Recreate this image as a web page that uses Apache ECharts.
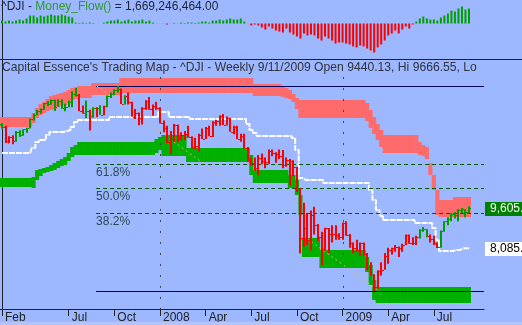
<!DOCTYPE html>
<html>
<head>
<meta charset="utf-8">
<script src="https://cdn.jsdelivr.net/npm/echarts@6.0.0/dist/echarts.min.js"></script>
<style>
html,body{margin:0;padding:0;background:#9db8ff;overflow:hidden}
#chart{width:522px;height:325px}
</style>
</head>
<body>
<div id="chart"></div>
<script>
// ---------------- DATA ----------------
// weekly bars, week ending Fri 2007-02-23 .. 2009-09-11 (134 weeks), index = week number
const weekCount = 134;
const tickIdx    = [0, 19, 32, 45, 58, 71, 84, 97, 110, 123];
const tickLabels = ['Feb','Jul','Oct','2008','Apr','Jul','Oct','2009','Apr','Jul'];
const yearIdx    = [45, 97];

const open = [12767,12647,12114,12276,12110,12481,12354,12560,12612,12961,
13120,13265,13326,13556,13507,13668,13424,13639,13360,13408,
13611,13907,13851,13265,13182,13239,13079,13379,13358,13113,
13442,13820,13896,14066,14093,13522,13807,13595,13042,13177,
12981,13372,13625,13339,13451,13366,12800,12606,12099,12207,
12743,12182,12348,12381,12266,11894,11951,12361,12216,12610,
12325,12849,12891,13058,12745,12986,12480,12638,12210,12308,
11843,11347,11288,11101,11497,11370,11327,11734,11660,11628,
11544,11220,11421,11388,11143,10325,8451,8852,8378,9325,
8943,8497,8046,8829,8635,8629,8579,8515,9034,8599,
8281,8077,8001,8280,7850,7366,7062,6627,7224,7279,
7776,8018,8083,8131,8076,8212,8575,8268,8278,8500,
8764,8799,8540,8438,8280,8147,8744,9093,9172,9370,
9321,9506,9545,9440];
const high = [12795,12700,12300,12340,12500,12530,12570,12620,12970,13150,
13290,13350,13560,13630,13690,13690,13700,13700,13530,13650,
14000,14121,13900,13460,13650,13300,13400,13400,13470,13450,
13840,13950,14080,14198,14100,13850,13950,13600,13330,13200,
13400,13660,13780,13500,13600,13400,12900,12700,12500,12770,
12750,12450,12500,12700,12300,12250,12400,12600,12650,12700,
12870,12920,13100,13140,13050,13000,12700,12700,12400,12400,
11900,11500,11500,11600,11650,11500,11800,11800,11700,11800,
11790,11500,11450,11400,11150,10350,9800,9400,9500,9650,
9000,8700,8850,8840,8950,8950,8650,9050,9100,8620,
8300,8400,8300,8300,7900,7550,7100,7250,7550,7900,
8100,8100,8200,8150,8250,8600,8600,8500,8550,8800,
8880,8800,8600,8550,8300,8750,9100,9250,9400,9450,
9550,9600,9550,9667];
const low = [12600,12050,12040,12000,12100,12280,12320,12440,12600,12900,
13100,13150,13300,13440,13490,13260,13420,13340,13250,13400,
13400,13800,13250,13150,12990,12520,13000,13030,13110,13100,
13400,13750,13850,13950,13520,13500,13500,13040,12950,12720,
12750,13300,13300,13080,13300,12780,12450,12050,11630,12100,
12080,12150,12150,12250,11850,11800,11730,12200,12200,12300,
12280,12700,12700,12730,12710,12470,12380,12200,12100,11840,
11340,11200,11000,10830,11250,11100,11250,11550,11300,11450,
11100,11150,10460,10800,10200,7880,8150,8200,8000,8600,
8350,7450,7990,7900,8300,8400,8400,8400,8550,8100,
7900,7950,7800,7800,7250,7050,6470,6550,7050,7270,
7500,7850,7950,7750,7950,8200,8250,8200,8200,8450,
8700,8500,8300,8200,8090,8100,8700,8950,9100,9200,
9100,9400,9250,9400];
const close = [12647,12114,12276,12110,12481,12354,12560,12612,12961,13120,
13265,13326,13556,13507,13668,13424,13639,13360,13408,13611,
13907,13851,13265,13182,13239,13079,13379,13358,13113,13442,
13820,13896,14066,14093,13522,13807,13595,13042,13177,12981,
13372,13625,13339,13451,13366,12800,12606,12099,12207,12743,
12182,12348,12381,12266,11894,11951,12361,12216,12610,12325,
12849,12891,13058,12745,12986,12480,12638,12210,12308,11843,
11347,11288,11101,11497,11370,11327,11734,11660,11628,11544,
11220,11421,11388,11143,10325,8451,8852,8378,9325,8943,
8497,8046,8829,8635,8629,8579,8515,9034,8599,8281,
8077,8001,8280,7850,7366,7062,6627,7224,7279,7776,
8018,8083,8131,8076,8212,8575,8268,8278,8500,8764,
8799,8540,8438,8280,8147,8744,9093,9172,9370,9321,
9506,9545,9441,9605];
// trading-map signal: 1 = green bar, 0 = red bar
const signal = [1,0,0,0,1,1,1,1,1,1,
1,1,1,1,1,1,1,1,1,1,
1,1,0,0,1,0,1,0,1,0,
1,1,1,1,0,1,0,0,0,0,
0,0,0,0,0,0,0,0,0,0,
0,0,0,0,0,0,0,0,0,0,
0,0,0,0,0,0,0,0,0,0,
0,0,0,0,0,0,0,0,0,0,
0,0,0,0,0,0,0,0,0,0,
0,0,0,0,0,0,0,0,0,0,
0,0,0,0,0,0,0,0,0,0,
0,0,0,0,0,0,0,0,0,1,
1,1,0,0,0,1,1,1,1,1,
1,1,1,1];
// resistance (red) cloud
const redTop = [13030,13030,13030,13030,13030,13030,13030,13030,13030,13181,
13369,13520,13595,13708,13822,13859,13897,13935,13972,14048,
14123,14161,14199,14199,14199,14199,14312,14312,14312,14312,
14312,14312,14312,14312,14500,14500,14500,14500,14500,14500,
14500,14500,14500,14500,14500,14500,14500,14500,14500,14500,
14500,14500,14500,14500,14500,14500,14500,14500,14500,14500,
14500,14500,14500,14500,14500,14500,14500,14500,14500,14500,
14500,14500,14274,14274,14274,14274,14274,14274,14274,14274,
14199,14123,14048,13897,13746,13671,13671,13671,13671,13671,
13671,13671,13671,13671,13671,13671,13671,13671,13671,13671,
13671,13671,13671,13671,13558,13294,13030,12766,12540,12351,
12351,12351,12351,12351,12351,12351,12351,12351,12351,12087,
11974,11899,11296,10843,10278,9901,9901,9901,9901,10014,
10014,10014,10014,10014];
const redBot = [12653,12653,12653,12653,12653,12653,12653,12653,12653,12804,
12992,13105,13181,13256,13294,13331,13407,13445,13482,13558,
13671,13708,13746,13746,13746,13746,13859,13859,13859,13859,
13859,13859,13859,13859,13935,13935,13935,13935,13935,13935,
13935,13935,13935,13935,13935,13935,13935,13935,13935,13935,
13935,13935,13935,13935,13935,13935,13935,13935,13935,13935,
13935,13935,13935,13935,13935,13935,13935,13935,13935,13935,
13935,13935,13822,13822,13822,13822,13822,13822,13822,13822,
13784,13746,13708,13595,13331,12992,12992,12992,12992,12992,
12992,12992,12992,12992,12992,12992,12992,12992,12992,12992,
12992,12992,12992,12992,12879,12615,12389,12163,11899,11673,
11673,11673,11673,11673,11673,11673,11673,11673,11673,11597,
11560,11446,10843,10278,9335,9260,9260,9260,9260,9260,
9260,9260,9260,9260];
// support (green) cloud
const greenTop = [10730,10730,10730,10730,10730,10730,10730,10730,10730,10768,
11032,11069,11107,11145,11220,11296,11371,11446,11522,11673,
11899,11974,12087,12087,12087,12087,12087,12087,12087,12087,
12087,12087,12087,12087,12087,12087,12087,12087,12087,12087,
12087,12087,12087,12087,12200,12276,12351,12351,12351,12351,
12351,12351,12351,11861,11861,11861,11861,11861,11861,11861,
11861,11861,11861,11861,11861,11861,11861,11861,11861,11861,
11861,11597,11032,11032,11032,11032,11032,11032,11032,11032,
11032,11032,10843,10843,10655,10089,8468,8468,8468,8468,
8468,8016,8016,8016,8016,8016,8016,8016,8016,8016,
8016,8016,8016,8016,7752,7450,6885,6621,6621,6621,
6621,6621,6621,6621,6621,6621,6621,6621,6621,6621,
6621,6621,6621,6621,6621,6621,6621,6621,6621,6621,
6621,6621,6621,6621];
const greenBot = [10391,10391,10391,10391,10391,10391,10391,10391,10391,10353,
10655,10806,10919,10956,10994,11032,11107,11183,11220,11371,
11522,11597,11597,11597,11597,11597,11597,11597,11597,11597,
11597,11597,11597,11597,11597,11597,11597,11597,11597,11597,
11597,11597,11597,11597,11673,11786,11560,11560,11560,11560,
11560,11560,11560,11333,11333,11333,11333,11333,11333,11333,
11333,11333,11333,11333,11333,11333,11333,11333,11333,11333,
11333,10843,10542,10542,10542,10542,10542,10542,10542,10542,
10542,10542,10353,10353,10089,9335,7752,7752,7752,7752,
7752,7337,7337,7337,7337,7337,7337,7337,7337,7337,
7337,7337,7337,7337,7186,6696,6131,6018,6018,6018,
6018,6018,6018,6018,6018,6018,6018,6018,6018,6018,
6018,6018,6018,6018,6018,6018,6018,6018,6018,6018,
6018,6018,6018,6018];
// white trailing line
const whiteLine = [11673,11673,11673,11673,11673,11673,11673,11673,11673,11861,
12087,12163,12163,12351,12464,12464,12464,12464,12502,12540,
12653,12841,12917,12917,12917,12917,12917,12917,12917,12917,
12917,13030,13030,13030,13030,13030,13030,13030,13030,13030,
13030,13030,13030,13030,13030,13218,13218,13218,13030,13030,
13030,13030,13030,13030,12954,12954,12954,12954,12954,12954,
12954,12954,12954,12954,12954,12954,12954,12954,12954,12954,
12766,12540,12427,12314,12314,12314,12314,12314,12314,12314,
12314,12314,12314,12238,11786,10730,10655,10655,10655,10655,
10655,10655,10542,10542,10542,10542,10542,10542,10542,10542,
10542,10542,10542,10542,10542,10278,9901,9524,9298,9147,
9147,9147,9147,9147,9147,9147,9147,9147,9034,9034,
9034,9034,9034,8845,8393,7978,7978,7978,7978,8016,
8016,8085,8085,8085];
// Money_Flow() histogram, units of 1e8
const moneyFlow = [3.3,2.2,3.3,2.2,3.3,4.4,3.3,5.6,8.9,8.9,
6.7,8.9,7.8,8.9,10,8.9,8.9,10,8.9,7.8,
6.7,1.1,0.6,1.1,0.6,1.1,0.6,0,0,1.1,
2.2,3.3,3.3,4.4,2.2,3.3,4.4,2.2,3.3,3.3,
4.4,2.2,3.3,1.1,0.2,0.1,0.2,-1.1,0.1,0.6,
0.1,1.1,0.6,1.1,1.1,0.6,1.1,2.2,2.2,1.1,
3.3,3.3,4.4,3.3,4.4,5.6,4.4,4.4,5.6,2.2,
0.1,-2.2,-1.1,-2.2,-4.4,-6.7,-3.3,-5.6,-7.8,-8.9,
-10,-5.6,-10,-12.2,-14.4,-16.7,-11.1,-13.3,-12.2,-13.3,
-16.7,-18.9,-14.4,-16.7,-18.9,-22.2,-21.1,-21.1,-22.2,-23.3,
-25.5,-26.6,-24.4,-25.5,-27.8,-30,-32.2,-26.6,-23.3,-18.9,
-13.3,-11.1,-7.8,-11.1,-6.7,-3.3,-5.6,-1.1,2.2,5.6,
7.8,5.6,4.4,4.4,3.3,6.7,8.9,11.1,14.4,13.3,
16.7,18.9,15.5,16.7];
// Fibonacci retracement tool
const fibHigh = 14198, fibLow = 6470, fibStartIdx = 26.8;
const fibRatios = [1, 0.618, 0.5, 0.382, 0];
const fibLabels = ['', '61.8%', '50.0%', '38.2%', ''];
const trendStart = [27, 14198], trendEnd = [107.4, 6470];
const lastCloseText = '9,605.41';
const lastTrailText = '8,085.00';
const mfTitleValue = '1,669,246,464.00';

// ---------------- CHART ----------------
const F = "'Liberation Sans', Arial, sans-serif";
const BG = '#9db8ff';
const X_MIN = -0.57, X_MAX = 137.28;
const Y_MIN = 5791, Y_MAX = 15216;
const idx = Array.from({length: weekCount}, (_, i) => i);

function bandRender(color) {
  return function (params, api) {
    const i = api.value(0);
    const p1 = api.coord([i, api.value(1)]);
    const p2 = api.coord([i, api.value(2)]);
    const w = api.size([1, 0])[0];
    return {type: 'rect', shape: {x: p1[0] - w / 2 - 0.3, y: p1[1], width: w + 0.6, height: p2[1] - p1[1]},
      style: {fill: color}};
  };
}

const chart = echarts.init(document.getElementById('chart'), null, {renderer: 'canvas'});
chart.setOption({
  animation: false,
  backgroundColor: BG,
  title: [
    {left: 1, top: 1, padding: 0,
      text: '{a|^DJI - }{b|Money_Flow()}{a| = ' + mfTitleValue + '}',
      textStyle: {fontWeight: 'normal', rich: {
        a: {color: '#1e2238', fontSize: 12, fontWeight: 'normal', fontFamily: F},
        b: {color: '#2e9a2e', fontSize: 12, fontWeight: 'normal', fontFamily: F}}}},
    {left: 2, top: 62, padding: 0,
      text: "Capital Essence's Trading Map - ^DJI - Weekly 9/11/2009 Open 9440.13, Hi 9666.55, Lo",
      textStyle: {color: '#30323f', fontSize: 12.15, fontWeight: 'normal', fontFamily: F}}
  ],
  grid: [
    {left: 0, top: 0, width: 484, height: 59},
    {left: 0, top: 59, width: 484, height: 250}
  ],
  xAxis: [
    {gridIndex: 0, type: 'value', min: X_MIN, max: X_MAX, show: false},
    {gridIndex: 1, type: 'value', min: X_MIN, max: X_MAX,
      axisLine: {show: true, lineStyle: {color: '#222', width: 1}},
      axisTick: {show: true, customValues: tickIdx, length: 7, inside: false, lineStyle: {color: '#222'}},
      axisLabel: {show: true, customValues: tickIdx, formatter: v => tickLabels[tickIdx.indexOf(v)] || '',
        align: 'left', margin: 3, padding: [0, 0, 0, 3], color: '#222', fontSize: 12, fontFamily: F},
      splitLine: {show: false}}
  ],
  yAxis: [
    {gridIndex: 0, type: 'value', min: -39.4, max: 26.1, position: 'right',
      axisLine: {show: true, lineStyle: {color: '#222'}}, axisTick: {show: false}, axisLabel: {show: false}, splitLine: {show: false}},
    {gridIndex: 1, type: 'value', min: Y_MIN, max: Y_MAX, position: 'right',
      axisLine: {show: true, lineStyle: {color: '#222'}}, axisTick: {show: false}, axisLabel: {show: false}, splitLine: {show: false}}
  ],
  graphic: [
    {type: 'line', shape: {x1: 0, y1: 59.5, x2: 522, y2: 59.5}, style: {stroke: '#222', lineWidth: 1}, z: 100},
    {type: 'rect', shape: {x: 0, y: 322, width: 522, height: 3}, style: {fill: '#b2c4fb'}, z: 100}
  ],
  series: [
    {type: 'custom', name: 'resistance', xAxisIndex: 1, yAxisIndex: 1, renderItem: bandRender('#ff6a6a'),
      data: idx.map(i => [i, redTop[i], redBot[i]]), encode: {x: 0, y: [1, 2]}, z: 1},
    {type: 'custom', name: 'support', xAxisIndex: 1, yAxisIndex: 1, renderItem: bandRender('#00b000'),
      data: idx.map(i => [i, greenTop[i], greenBot[i]]), encode: {x: 0, y: [1, 2]}, z: 1},
    {type: 'line', name: 'trail', xAxisIndex: 1, yAxisIndex: 1, step: 'middle', showSymbol: false, symbol: 'none',
      data: idx.map(i => [i, whiteLine[i]]), lineStyle: {color: '#ffffff', width: 2, type: [6, 1]}, z: 2},
    {type: 'custom', name: 'years', xAxisIndex: 1, yAxisIndex: 1,
      data: yearIdx.map(i => [i, 14540]),
      renderItem: (params, api) => {
        const p = api.coord([api.value(0), api.value(1)]);
        const cs = params.coordSys;
        const x = Math.round(p[0]) + 0.5;
        return {type: 'line', shape: {x1: x, y1: p[1], x2: x, y2: cs.y + cs.height}, style: {stroke: '#444', lineWidth: 1, lineDash: [2, 9]}};
      }, z: 3},
    {type: 'custom', name: 'fib', xAxisIndex: 1, yAxisIndex: 1,
      data: fibRatios.map(r => [fibStartIdx, fibLow + r * (fibHigh - fibLow)]),
      renderItem: (params, api) => {
        const k = params.dataIndex;
        const p = api.coord([api.value(0), api.value(1)]);
        const cs = params.coordSys;
        const y = Math.round(p[1]) + 0.5;
        const solid = fibLabels[k] === '';
        const ch = [{type: 'line', shape: {x1: p[0], y1: y, x2: cs.x + cs.width, y2: y},
          style: {stroke: solid ? '#000060' : '#005a00', lineWidth: 1, lineDash: solid ? null : [4, 3]}}];
        if (!solid) ch.push({type: 'text', style: {text: fibLabels[k], x: p[0], y: y + 2, fill: '#2c4a50', font: '12px ' + F, verticalAlign: 'top', align: 'left'}});
        return {type: 'group', children: ch};
      }, z: 4},
    {type: 'line', name: 'trend', xAxisIndex: 1, yAxisIndex: 1, showSymbol: false, symbol: 'none',
      data: [trendStart, trendEnd], lineStyle: {color: '#e2b47a', width: 1, type: [2, 3]}, z: 5},
    {type: 'custom', name: 'DJI', xAxisIndex: 1, yAxisIndex: 1,
      data: idx.map(i => [i, open[i], high[i], low[i], close[i], signal[i]]), encode: {x: 0, y: [1, 2, 3, 4]},
      renderItem: (params, api) => {
        const i = api.value(0);
        const x = Math.round(api.coord([i, 0])[0]);
        const yO = api.coord([i, api.value(1)])[1];
        const yH = api.coord([i, api.value(2)])[1];
        const yL = api.coord([i, api.value(3)])[1];
        const yC = api.coord([i, api.value(4)])[1];
        const col = api.value(5) ? '#009c00' : '#ff0000';
        return {type: 'group', children: [
          {type: 'rect', shape: {x: x - 1, y: yH, width: 2, height: Math.max(1, yL - yH)}, style: {fill: col}},
          {type: 'rect', shape: {x: x - 2, y: Math.round(yO), width: 1, height: 1}, style: {fill: col}},
          {type: 'rect', shape: {x: x + 1, y: Math.round(yC), width: 1, height: 1}, style: {fill: col}}
        ]};
      }, z: 6},
    {type: 'custom', name: 'lastValues', xAxisIndex: 1, yAxisIndex: 1, clip: false,
      data: [[weekCount - 1, close[weekCount - 1]], [weekCount - 1, whiteLine[weekCount - 1]]],
      renderItem: (params, api) => {
        const k = params.dataIndex;
        const p = api.coord([api.value(0), api.value(1)]);
        const cs = params.coordSys;
        const x0 = cs.x + cs.width + 1;
        const y = Math.round(p[1]);
        const isClose = k === 0;
        return {type: 'group', children: [
          {type: 'rect', shape: {x: x0, y: y - 6, width: 40, height: 14}, style: {fill: isClose ? '#008000' : '#ffffff'}},
          {type: 'text', style: {text: isClose ? lastCloseText : lastTrailText, x: x0 + 5, y: y + 1,
            fill: isClose ? '#ffffff' : '#000000', font: '12px ' + F, verticalAlign: 'middle', align: 'left'}}
        ]};
      }, z: 7},
    {type: 'bar', name: 'Money_Flow', xAxisIndex: 0, yAxisIndex: 0, barWidth: 2,
      data: idx.map(i => [i, moneyFlow[i]]),
      itemStyle: {color: p => p.value[1] >= 0 ? '#00a000' : '#ff0000'}, z: 6}
  ]
});
</script>
</body>
</html>
